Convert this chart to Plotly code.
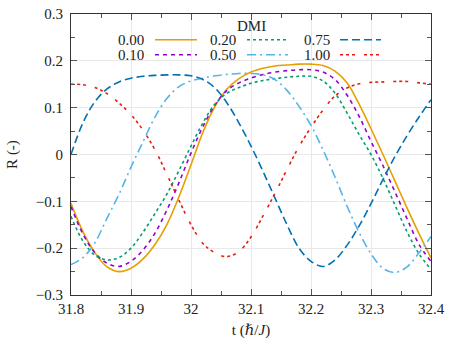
import plotly.graph_objects as go

# time axis (hbar/J), sampled every 0.02
t = [31.80, 31.82, 31.84, 31.86, 31.88, 31.90, 31.92, 31.94, 31.96, 31.98,
     32.00, 32.02, 32.04, 32.06, 32.08, 32.10, 32.12, 32.14, 32.16, 32.18,
     32.20, 32.22, 32.24, 32.26, 32.28, 32.30, 32.32, 32.34, 32.36, 32.38,
     32.40]

r_000 = [-0.104, -0.165, -0.210, -0.240, -0.250, -0.243, -0.223, -0.192, -0.149, -0.090,
         -0.022, 0.048, 0.103, 0.140, 0.162, 0.176, 0.184, 0.189, 0.191, 0.193,
         0.193, 0.190, 0.178, 0.153, 0.108, 0.055, 0.000, -0.057, -0.114, -0.169,
         -0.221]
r_010 = [-0.111, -0.170, -0.210, -0.232, -0.239, -0.228, -0.204, -0.168, -0.118, -0.060,
         0.003, 0.060, 0.106, 0.137, 0.153, 0.163, 0.171, 0.176, 0.179, 0.181,
         0.181, 0.176, 0.160, 0.127, 0.082, 0.028, -0.024, -0.080, -0.137, -0.192,
         -0.228]
r_020 = [-0.132, -0.185, -0.215, -0.225, -0.220, -0.200, -0.166, -0.126, -0.084, -0.034,
         0.018, 0.068, 0.108, 0.131, 0.143, 0.152, 0.158, 0.162, 0.165, 0.167,
         0.167, 0.157, 0.131, 0.089, 0.043, 0.000, -0.051, -0.108, -0.165, -0.212,
         -0.245]
r_050 = [-0.235, -0.220, -0.188, -0.136, -0.085, -0.027, 0.027, 0.080, 0.120, 0.145,
         0.157, 0.163, 0.168, 0.171, 0.173, 0.173, 0.170, 0.160, 0.137, 0.103,
         0.062, 0.010, -0.048, -0.110, -0.166, -0.212, -0.243, -0.252, -0.240, -0.210,
         -0.175]
r_075 = [0.000, 0.068, 0.113, 0.140, 0.155, 0.163, 0.167, 0.169, 0.170, 0.170,
         0.168, 0.160, 0.142, 0.110, 0.067, 0.018, -0.036, -0.093, -0.150, -0.200,
         -0.228, -0.239, -0.225, -0.194, -0.153, -0.105, -0.053, -0.004, 0.040, 0.080,
         0.117]
r_100 = [0.150, 0.149, 0.143, 0.130, 0.110, 0.085, 0.052, 0.010, -0.043, -0.098,
         -0.150, -0.190, -0.210, -0.218, -0.207, -0.176, -0.131, -0.083, -0.032, 0.017,
         0.058, 0.095, 0.125, 0.142, 0.151, 0.154, 0.155, 0.156, 0.156, 0.153,
         0.150]

labels = ["0.00", "0.10", "0.20", "0.50", "0.75", "1.00"]
series = [r_000, r_010, r_020, r_050, r_075, r_100]
colors = ["#e69f00", "#9400d3", "#009e73", "#56b4e9", "#0072b2", "#e51e10"]
dashes = ["solid", "4px,4px", "dot", "9px,4px,2px,4px", "8px,4px",
          "3px,3px,3px,3px,3px,9px"]

FONT = "Liberation Serif, DejaVu Serif, serif"
TXT = "#222"

fig = go.Figure()
for lab, ys, col, dsh in zip(labels, series, colors, dashes):
    fig.add_trace(
        go.Scatter(
            x=t,
            y=ys,
            name=lab,
            mode="lines",
            line=dict(color=col, width=1.6, dash=dsh, shape="spline", smoothing=1.0),
            showlegend=False,
        )
    )

# hand made legend (gnuplot style: text then sample), in paper coords
# plot area is 360 x 280.7 px
def px2paper(px, py):
    return (px - 71) / 360.0, (295 - py) / 280.7

shapes = []
annotations = []
x0, y0 = px2paper(113, 14.3)
x1, y1 = px2paper(388, 62)
shapes.append(dict(type="rect", xref="paper", yref="paper", x0=x0, x1=x1, y0=y1, y1=y0,
                   fillcolor="white", line_width=0, layer="between"))

cols = [(146, 155, 197), (238, 247, 288), (332, 340, 381)]
rows = [40, 55]
for i, (lab, col, dsh) in enumerate(zip(labels, colors, dashes)):
    c, rr = cols[i // 2], rows[i % 2]
    tx, ty = px2paper(c[0], rr)
    annotations.append(dict(x=tx, y=ty, xref="paper", yref="paper", text=lab,
                            showarrow=False, xanchor="right", yanchor="middle",
                            font=dict(family=FONT, size=15, color=TXT)))
    sx0, sy = px2paper(c[1], rr)
    sx1, _ = px2paper(c[2], rr)
    shapes.append(dict(type="line", xref="paper", yref="paper", x0=sx0, x1=sx1,
                       y0=sy, y1=sy, line=dict(color=col, width=1.6, dash=dsh),
                       layer="above"))

dx, dy = px2paper(251, 26)
annotations.append(dict(x=dx, y=dy, xref="paper", yref="paper", text="DMI",
                        showarrow=False, xanchor="center", yanchor="middle",
                        font=dict(family=FONT, size=15, color=TXT)))

axis_common = dict(
    showline=True,
    linecolor="#333",
    linewidth=1,
    mirror="ticks",
    ticks="inside",
    ticklen=6,
    tickcolor="#555",
    tickwidth=1,
    showgrid=True,
    gridcolor="#e8e8e8",
    gridwidth=1,
    zeroline=False,
    automargin=False,
    tickfont=dict(family=FONT, size=15, color=TXT),
)

fig.update_layout(
    width=457,
    height=342,
    paper_bgcolor="white",
    plot_bgcolor="white",
    margin=dict(l=71, r=26, t=14, b=47),
    showlegend=False,
    shapes=shapes,
    annotations=annotations,
    xaxis=dict(
        range=[31.8, 32.4],
        dtick=0.1,
        tick0=31.8,
        minor=dict(dtick=0.05, ticks="inside", ticklen=4, tickcolor="#555", showgrid=False),
        title=dict(text="t (ℏ/<i>J</i>)", font=dict(family=FONT, size=15, color=TXT), standoff=8),
        **axis_common,
    ),
    yaxis=dict(
        range=[-0.3, 0.3],
        dtick=0.1,
        tick0=0,
        minor=dict(dtick=0.05, ticks="inside", ticklen=4, tickcolor="#555", showgrid=False),
        title=dict(text="R (-)", font=dict(family=FONT, size=15, color=TXT), standoff=14),
        ticklabelstandoff=4,
        **axis_common,
    ),
)

# page has a default 8px body margin; remove it so the figure fills the window
fig.write_html(
    "out.html",
    config={"displayModeBar": False},
    post_script="document.body.style.margin='0';",
)
